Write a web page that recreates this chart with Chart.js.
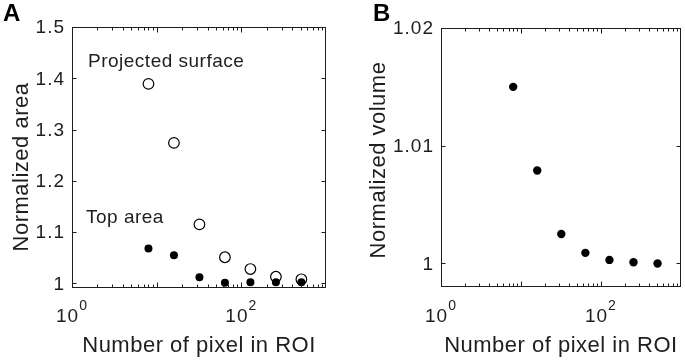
<!DOCTYPE html>
<html>
<head>
<meta charset="utf-8">
<script src="https://cdn.jsdelivr.net/npm/chart.js@4.4.1/dist/chart.umd.min.js"></script>
<style>
  html, body { margin: 0; padding: 0; background: #fff; }
  #wrap { position: relative; width: 685px; height: 361px; }
  canvas { position: absolute; top: 0; }
  #chartA { left: 0; }
  #chartB { left: 340px; }
</style>
</head>
<body>
<div id="wrap">
  <canvas id="chartA" width="340" height="361"></canvas>
  <canvas id="chartB" width="345" height="361"></canvas>
</div>
<script>
// data
const pixelCounts = [8, 16, 32, 64, 128, 256, 512];
const surfaceArea = [1.389, 1.274, 1.115, 1.051, 1.028, 1.013, 1.008];
const topArea = [1.068, 1.055, 1.012, 1.001, 1.002, 1.002, 1.002];
const volume = [1.0150, 1.0079, 1.0025, 1.0009, 1.0003, 1.0001, 1.0000];

const areaTicks = [1, 1.1, 1.2, 1.3, 1.4, 1.5];
const volumeTicks = [1, 1.01, 1.02];
const xLabelExponents = [0, 2];

const INK = "#1e1e1e";
const FONT = "'Liberation Sans', Arial, sans-serif";

function toPoints(values) {
  return pixelCounts.map((n, i) => ({ x: n, y: values[i] }));
}

// MATLAB-like box, inward ticks and all texts around the axes
function axesDecor(opts) {
  return {
    id: "axesDecor",
    afterDraw(chart) {
      const { ctx, chartArea: a, scales } = chart;
      const xs = scales.x, ys = scales.y;
      const L = Math.round(a.left) + 0.5, R = Math.round(a.right) - 0.5;
      const T = Math.round(a.top) + 0.5, B = Math.round(a.bottom) - 0.5;

      ctx.save();
      ctx.strokeStyle = INK;
      ctx.lineWidth = 1;
      ctx.strokeRect(L, T, R - L, B - T);

      ctx.beginPath();
      for (let d = 0; d < 3; d++) {
        for (let m = 1; m <= 9; m++) {
          const px = Math.round(xs.getPixelForValue(m * Math.pow(10, d))) + 0.5;
          const len = m === 1 ? 5 : 3;
          ctx.moveTo(px, B); ctx.lineTo(px, B - len);
          ctx.moveTo(px, T); ctx.lineTo(px, T + len);
        }
      }
      opts.yTicks.forEach((v) => {
        const py = Math.round(ys.getPixelForValue(v)) + 0.5;
        ctx.moveTo(L, py); ctx.lineTo(L + 4, py);
        ctx.moveTo(R, py); ctx.lineTo(R - 4, py);
      });
      ctx.stroke();

      ctx.fillStyle = INK;

      // y tick labels
      ctx.font = "19px " + FONT;
      ctx.letterSpacing = "1px";
      ctx.textAlign = "right";
      ctx.textBaseline = "middle";
      opts.yTicks.forEach((v) => {
        ctx.fillText(String(v), a.left - 7, ys.getPixelForValue(v) + 1);
      });

      // x tick labels 10^n
      ctx.textBaseline = "alphabetic";
      ctx.textAlign = "left";
      xLabelExponents.forEach((e) => {
        const px = xs.getPixelForValue(Math.pow(10, e));
        ctx.font = "19px " + FONT;
        const w1 = ctx.measureText("10").width;
        ctx.font = "14px " + FONT;
        const w2 = ctx.measureText(String(e)).width;
        const start = px - (w1 + w2) / 2;
        ctx.font = "19px " + FONT;
        ctx.fillText("10", start, 322);
        ctx.font = "14px " + FONT;
        ctx.fillText(String(e), start + w1, 310);
      });

      // axis titles
      ctx.font = "22px " + FONT;
      ctx.letterSpacing = "0.5px";
      ctx.textAlign = "center";
      ctx.fillText("Number of pixel in ROI", (a.left + a.right) / 2, 352);

      ctx.save();
      ctx.translate(opts.yTitleX, opts.yTitleY);
      ctx.rotate(-Math.PI / 2);
      ctx.fillText(opts.yTitle, 0, 0);
      ctx.restore();

      // annotations inside the plot
      ctx.font = "19px " + FONT;
      ctx.letterSpacing = "0.5px";
      ctx.textAlign = "left";
      (opts.notes || []).forEach((n) => ctx.fillText(n.text, n.x, n.y));

      // panel letter
      ctx.letterSpacing = "0px";
      ctx.font = "bold 24px " + FONT;
      ctx.fillStyle = "#000";
      ctx.fillText(opts.letter, opts.letterX, 21);
      ctx.restore();
    }
  };
}

function makeOptions(yMin, yMax, yWidth, xHeight, padding) {
  return {
    responsive: false,
    animation: false,
    layout: { padding: padding },
    plugins: { legend: { display: false }, tooltip: { enabled: false } },
    scales: {
      x: {
        type: "logarithmic",
        min: 1,
        max: 1000,
        ticks: { display: false },
        grid: { display: false, drawTicks: false },
        border: { display: false },
        afterFit: (s) => { s.height = xHeight; }
      },
      y: {
        min: yMin,
        max: yMax,
        ticks: { display: false },
        grid: { display: false, drawTicks: false },
        border: { display: false },
        afterFit: (s) => { s.width = yWidth; }
      }
    }
  };
}

new Chart(document.getElementById("chartA"), {
  type: "scatter",
  data: {
    datasets: [
      {
        label: "Top area",
        data: toPoints(topArea),
        pointRadius: 4,
        pointBackgroundColor: "#000",
        pointBorderColor: "#000",
        pointBorderWidth: 0
      },
      {
        label: "Projected surface",
        data: toPoints(surfaceArea),
        pointRadius: 5.3,
        pointBackgroundColor: "rgba(255,255,255,0)",
        pointBorderColor: "#000",
        pointBorderWidth: 1.2
      }
    ]
  },
  options: makeOptions(0.991, 1.5, 72, 73, { left: 0, right: 14, top: 27, bottom: 0 }),
  plugins: [axesDecor({
    letter: "A",
    letterX: 3,
    yTicks: areaTicks,
    yTitle: "Normalized area",
    yTitleX: 28,
    yTitleY: 167,
    notes: [
      { text: "Projected surface", x: 88, y: 66.5 },
      { text: "Top area", x: 86, y: 222.5 }
    ]
  })]
});

new Chart(document.getElementById("chartB"), {
  type: "scatter",
  data: {
    datasets: [
      {
        label: "Volume",
        data: toPoints(volume),
        pointRadius: 4.2,
        pointBackgroundColor: "#000",
        pointBorderColor: "#000",
        pointBorderWidth: 0
      }
    ]
  },
  options: makeOptions(0.998, 1.02, 101, 74, { left: 0, right: 3, top: 28, bottom: 0 }),
  plugins: [axesDecor({
    letter: "B",
    letterX: 33,
    yTicks: volumeTicks,
    yTitle: "Normalized volume",
    yTitleX: 45,
    yTitleY: 160
  })]
});
</script>
</body>
</html>
